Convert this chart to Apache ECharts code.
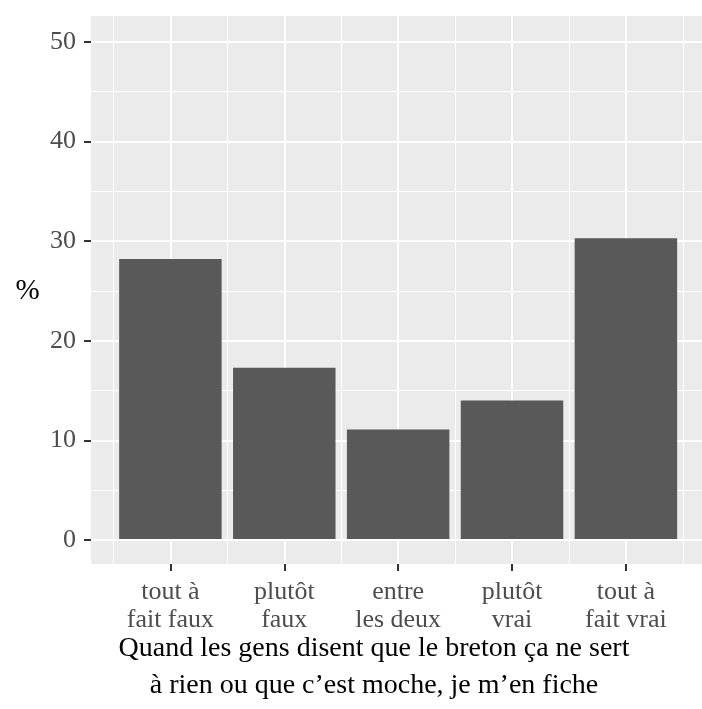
<!DOCTYPE html>
<html>
<head>
<meta charset="utf-8">
<script src="https://cdn.jsdelivr.net/npm/echarts@6/dist/echarts.min.js"></script>
<style>
html,body{margin:0;padding:0;background:#fff;}
#chart{width:702px;height:709px;}
</style>
</head>
<body>
<div id="chart"></div>
<script>
// ---- data ----
const categories = ['tout à\nfait faux', 'plutôt\nfaux', 'entre\nles deux', 'plutôt\nvrai', 'tout à\nfait vrai'];
const percentages = [28.1, 17.2, 11.0, 13.9, 30.2];
const yMin = 0, yMax = 50, yStep = 10;
const yTitle = '%';
const xTitle = 'Quand les gens disent que le breton ça ne sert\nà rien ou que c\u2019est moche, je m\u2019en fiche';

// ---- layout ----
const W = 702, H = 709;
const panel = {left: 91, right: 702, top: 16, bottom: 564};
const y0px = 540, y50px = 41.7;
const c0 = 170.4, c4 = 625.9;
const band = (c4 - c0) / (categories.length - 1);
const FONT = '"Liberation Serif", "Times New Roman", serif';

const chart = echarts.init(document.getElementById('chart'), null, {renderer: 'canvas'});
const hiddenVal = (extra) => Object.assign({type: 'value', show: false, splitLine: {show: false}}, extra || {});

chart.setOption({
  animation: false,
  backgroundColor: '#fff',
  grid: [
    // panel background
    {left: panel.left, right: W - panel.right, top: panel.top, bottom: H - panel.bottom,
     show: true, backgroundColor: '#EBEBEB', borderWidth: 0},
    // horizontal grid lines + y labels
    {left: panel.left, right: W - panel.right, top: y50px, bottom: H - y0px},
    // bars + minor vertical lines
    {left: c0 - band / 2, right: W - (c4 + band / 2), top: panel.top, bottom: H - panel.bottom},
    // major vertical lines + x ticks/labels
    {left: c0, right: W - c4, top: panel.top, bottom: H - panel.bottom}
  ],
  xAxis: [
    hiddenVal({gridIndex: 0}),
    hiddenVal({gridIndex: 1}),
    {
      type: 'category', gridIndex: 2, data: categories, boundaryGap: true, position: 'bottom',
      axisLine: {show: false, onZero: false},
      axisTick: {show: false},
      axisLabel: {show: false},
      splitLine: {show: true, lineStyle: {color: '#FFFFFF', width: 1}}
    },
    {
      type: 'value', gridIndex: 3, min: 0, max: categories.length - 1, interval: 1, position: 'bottom',
      axisLine: {show: false, onZero: false},
      axisTick: {show: true, length: 7, lineStyle: {color: '#333333', width: 2}},
      axisLabel: {fontFamily: FONT, fontSize: 26, color: '#4D4D4D', lineHeight: 28, margin: 14,
                  formatter: (v) => categories[v] || ''},
      splitLine: {show: true, lineStyle: {color: '#FFFFFF', width: 2}}
    }
  ],
  yAxis: [
    hiddenVal({gridIndex: 0}),
    {
      type: 'value', gridIndex: 1, min: yMin, max: yMax, interval: yStep,
      axisLine: {show: false, onZero: false},
      axisTick: {show: true, length: 7, lineStyle: {color: '#333333', width: 2}},
      axisLabel: {fontFamily: FONT, fontSize: 26, color: '#4D4D4D', margin: 15},
      splitLine: {show: true, lineStyle: {color: '#FFFFFF', width: 2}},
      minorTick: {show: false, splitNumber: 2},
      minorSplitLine: {show: true, lineStyle: {color: '#FFFFFF', width: 1}}
    },
    hiddenVal({gridIndex: 2, min: yMin - (yMax - yMin) * 0.05, max: yMax + (yMax - yMin) * 0.05}),
    hiddenVal({gridIndex: 3, min: 0, max: 1})
  ],
  series: [{
    type: 'bar', xAxisIndex: 2, yAxisIndex: 2,
    data: percentages, barWidth: '90%',
    itemStyle: {color: '#595959'}, z: 5
  }],
  graphic: [
    {type: 'text', x: 27.5, y: 291.7, z: 10,
     style: {text: yTitle, font: '29px ' + FONT, fill: '#000', textAlign: 'center', textVerticalAlign: 'middle'}},
    {type: 'text', x: 374, y: 630, z: 10,
     style: {text: xTitle, font: '28px ' + FONT, fill: '#000', textAlign: 'center', textVerticalAlign: 'top', lineHeight: 37}}
  ]
});
</script>
</body>
</html>
